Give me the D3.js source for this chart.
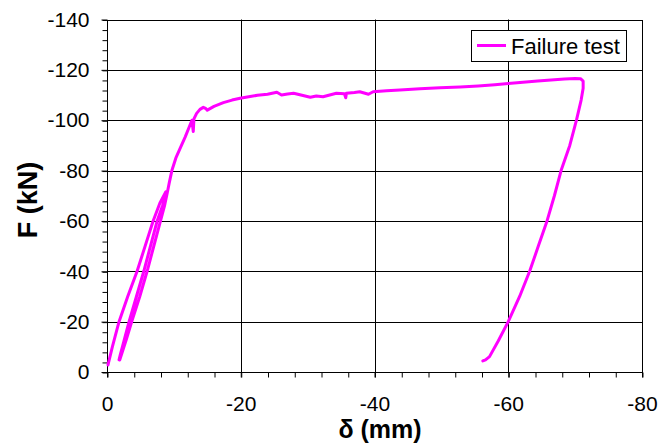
<!DOCTYPE html>
<html>
<head>
<meta charset="utf-8">
<script src="https://cdn.jsdelivr.net/npm/d3@7"></script>
<style>
  body { margin: 0; background: #fff; }
  svg { display: block; font-family: "Liberation Sans", Arial, sans-serif; }
</style>
</head>
<body>
<script>
// displacement (mm) and force (kN)
const delta = [-0.15, -0.8, -1.8, -3.1, -4.5, -5.7, -6.9, -7.9, -8.8,
  -8.9, -8.3, -7.5, -6.5, -5.5, -4.4, -3.3, -2.5, -2.0, -1.8,
  -1.9, -2.3, -2.9, -3.7, -4.9, -6.0, -7.0, -8.0, -8.6, -9.0, -9.3, -9.7, -10.3, -10.8,
  -11.7, -12.4, -12.7, -12.9, -13.0, -13.4, -13.9, -14.4, -14.8, -15.0, -16.0, -17.4,
  -18.7, -19.9, -21.4, -22.5, -24.0, -25.4, -26.1, -27.0, -27.9, -29.0, -30.4, -31.3,
  -32.3, -33.3, -34.3, -35.5, -35.7, -35.8, -37.0, -37.8, -39.1, -39.8, -41.8, -43.8,
  -46.8, -49.8, -52.8, -55.5, -58.0, -60.0, -62.2, -64.4, -66.4, -68.4, -70.0, -70.8,
  -71.2, -71.2, -70.9, -70.2, -69.2, -67.9, -66.9, -65.8, -64.5, -63.2, -61.7, -60.0,
  -58.5, -57.2, -56.6, -56.2];
const force = [-2.8, -10, -20, -30, -40, -50, -60, -67, -71.6,
  -71, -66, -60, -50, -40, -30, -20, -12, -7, -4.8,
  -4.8, -8, -13, -20, -30, -40, -50, -60, -66, -71, -75, -80, -85, -88,
  -93.4, -98, -100, -95.5, -100.5, -102.7, -104.3, -105.1, -104.6, -104.0, -105.5, -107,
  -108, -108.7, -109.4, -109.9, -110.3, -111.1, -110.0, -110.4, -110.7, -110.0, -109.1, -109.6,
  -109.3, -110.0, -110.7, -110.5, -108.9, -110.7, -111.0, -111.3, -110.3, -111.3, -111.7, -112,
  -112.5, -112.9, -113.2, -113.6, -114.1, -114.6, -115.1, -115.6, -116.0, -116.4, -116.6, -116.5,
  -115.5, -112.7, -108, -100, -90, -80, -70, -60, -50, -40, -30, -20,
  -12.3, -6.1, -4.8, -4.4];

const xTicks = [0, -20, -40, -60, -80];
const yTicks = [0, -20, -40, -60, -80, -100, -120, -140];
const seriesName = "Failure test";

const W = 658, H = 443;
const margin = { left: 107, right: 16, top: 19.5, bottom: 71 };

const svg = d3.select("body").append("svg")
    .attr("width", W)
    .attr("height", H);

const x = d3.scaleLinear().domain([0, -80]).range([margin.left, W - margin.right]);
const y = d3.scaleLinear().domain([0, -140]).range([H - margin.bottom, margin.top]);

// grid
svg.append("g")
    .selectAll("line.h")
    .data(yTicks.slice(1, -1))
    .enter().append("line")
      .attr("x1", x(0)).attr("x2", x(-80))
      .attr("y1", d => Math.round(y(d)) + 0.5).attr("y2", d => Math.round(y(d)) + 0.5)
      .attr("stroke", "#000").attr("stroke-width", 1);

svg.append("g")
    .selectAll("line.v")
    .data(xTicks.slice(1, -1))
    .enter().append("line")
      .attr("y1", y(0)).attr("y2", y(-140))
      .attr("x1", d => Math.round(x(d)) + 0.5).attr("x2", d => Math.round(x(d)) + 0.5)
      .attr("stroke", "#000").attr("stroke-width", 1);

// plot frame
svg.append("rect")
    .attr("x", x(0) + 0.5).attr("y", Math.round(y(-140)) + 0.5)
    .attr("width", x(-80) - x(0)).attr("height", y(0) - Math.round(y(-140)))
    .attr("fill", "none").attr("stroke", "#000").attr("stroke-width", 1);

// minor ticks
svg.append("g")
    .attr("transform", "translate(" + (x(0) + 0.5) + ",0.5)")
    .call(d3.axisLeft(y).tickValues(d3.range(0, -141, -4)).tickSize(5).tickFormat(""))
    .call(g => g.select(".domain").remove());
svg.append("g")
    .attr("transform", "translate(0.5," + (y(0) + 0.5) + ")")
    .call(d3.axisBottom(x).tickValues(d3.range(0, -81, -4)).tickSize(5).tickFormat(""))
    .call(g => g.select(".domain").remove());

// labelled ticks (plain hyphen minus, as in the original)
const fmt = d => String(d);

svg.append("g")
    .attr("transform", "translate(" + (x(0) + 0.5) + ",0)")
    .call(d3.axisLeft(y).tickValues(yTicks).tickSize(6).tickPadding(12).tickFormat(fmt))
    .call(g => g.select(".domain").remove())
    .call(g => g.selectAll("text").attr("font-size", 21).attr("font-family", "Liberation Sans, Arial, sans-serif").attr("fill", "#000"));

svg.append("g")
    .attr("transform", "translate(0," + (y(0) + 0.5) + ")")
    .call(d3.axisBottom(x).tickValues(xTicks).tickSize(5).tickPadding(19).tickFormat(fmt))
    .call(g => g.select(".domain").remove())
    .call(g => g.selectAll("text").attr("font-size", 21).attr("font-family", "Liberation Sans, Arial, sans-serif").attr("fill", "#000"));

// curve
const pts = delta.map((d, i) => [d, force[i]]);
svg.append("path")
    .datum(pts)
    .attr("fill", "none")
    .attr("stroke", "#ff00ff")
    .attr("stroke-width", 3)
    .attr("stroke-linejoin", "round")
    .attr("stroke-linecap", "round")
    .attr("d", d3.line().x(d => x(d[0])).y(d => y(d[1])));

// axis titles
svg.append("text")
    .attr("transform", "translate(37,200) rotate(-90)")
    .attr("text-anchor", "middle")
    .attr("font-size", 27).attr("font-weight", "bold")
    .text("F (kN)");

svg.append("text")
    .attr("x", 380).attr("y", 438)
    .attr("text-anchor", "middle")
    .attr("font-size", 25).attr("font-weight", "bold")
    .text("δ (mm)");

// legend
const lg = svg.append("g");
lg.append("rect")
    .attr("x", 471.5).attr("y", 30.5).attr("width", 155).attr("height", 31)
    .attr("fill", "#fff").attr("stroke", "#000");
lg.append("line")
    .attr("x1", 477).attr("x2", 506).attr("y1", 45.5).attr("y2", 45.5)
    .attr("stroke", "#ff00ff").attr("stroke-width", 3);
lg.append("text")
    .attr("x", 511).attr("y", 54)
    .attr("font-size", 22)
    .text(seriesName);
</script>
</body>
</html>
